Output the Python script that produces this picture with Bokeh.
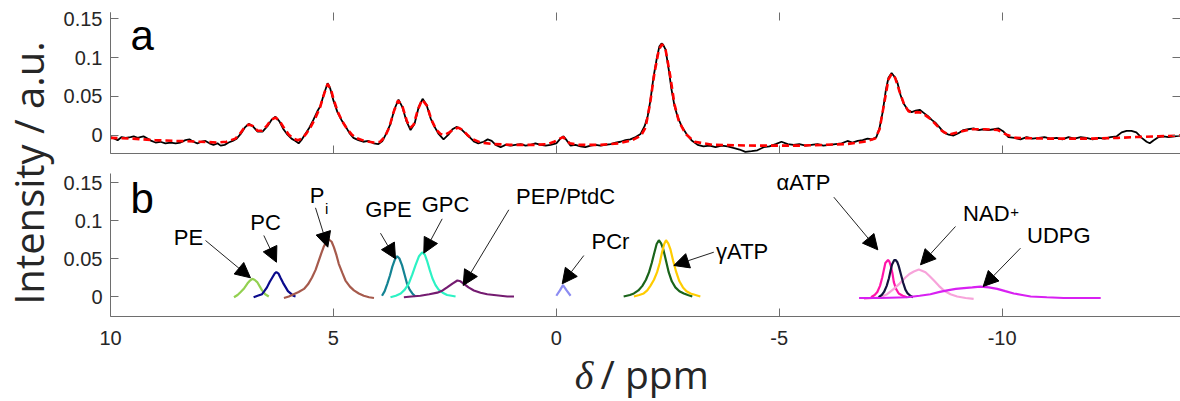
import math
from bokeh.plotting import figure
from bokeh.models import (Range1d, LinearAxis, FixedTicker, Label, Arrow,
                          NormalHead, CustomJSTickFormatter, PrintfTickFormatter)
from bokeh.embed import file_html
from bokeh.resources import INLINE

# ---------------- data ----------------
x_ticks = [10, 5, 0, -5, -10]
y_ticks = [0, 0.05, 0.1, 0.15]

# (a) measured spectrum (ppm, intensity)
spectrum = [
    (10.0, -0.002), (9.91, -0.004), (9.84, -0.006), (9.75, -0.002), (9.66, -0.003), (9.55, -0.002),
    (9.48, -0.001), (9.39, -0.003), (9.33, -0.002), (9.26, -0.001), (9.17, -0.004), (9.08, -0.007),
    (8.99, -0.009), (8.88, -0.008), (8.77, -0.010), (8.65, -0.009), (8.54, -0.010), (8.43, -0.009),
    (8.32, -0.006), (8.23, -0.005), (8.14, -0.008), (8.05, -0.010), (7.96, -0.008), (7.87, -0.007),
    (7.78, -0.010), (7.69, -0.012), (7.60, -0.010), (7.53, -0.013), (7.44, -0.012), (7.35, -0.009),
    (7.26, -0.007), (7.17, -0.004), (7.08, 0.002), (6.99, 0.010), (6.90, 0.015), (6.81, 0.012),
    (6.70, 0.005), (6.59, 0.005), (6.48, 0.012), (6.39, 0.020), (6.30, 0.024), (6.21, 0.018),
    (6.12, 0.008), (6.03, 0.001), (5.94, -0.004), (5.85, -0.007), (5.78, -0.010), (5.72, -0.006),
    (5.63, 0.002), (5.54, 0.010), (5.45, 0.020), (5.36, 0.031), (5.29, 0.038), (5.22, 0.052),
    (5.13, 0.067), (5.07, 0.060), (5.00, 0.045), (4.91, 0.030), (4.82, 0.020), (4.73, 0.012),
    (4.64, 0.003), (4.55, -0.003), (4.44, -0.006), (4.33, -0.008), (4.21, -0.007), (4.10, -0.010),
    (3.99, -0.011), (3.90, -0.007), (3.81, 0.003), (3.72, 0.015), (3.63, 0.034), (3.54, 0.046),
    (3.45, 0.036), (3.36, 0.018), (3.27, 0.007), (3.18, 0.015), (3.09, 0.036), (3.00, 0.047),
    (2.91, 0.039), (2.82, 0.022), (2.73, 0.011), (2.64, 0.002), (2.53, -0.005), (2.42, 0.001),
    (2.33, 0.008), (2.24, 0.011), (2.13, 0.008), (2.01, 0.001), (1.93, -0.003), (1.84, -0.008),
    (1.75, -0.010), (1.63, -0.008), (1.54, -0.005), (1.45, -0.007), (1.36, -0.012), (1.25, -0.015),
    (1.14, -0.012), (1.03, -0.013), (0.92, -0.012), (0.80, -0.011), (0.69, -0.013), (0.58, -0.012),
    (0.47, -0.010), (0.35, -0.012), (0.24, -0.013), (0.13, -0.012), (0.00, -0.010), (-0.09, -0.004),
    (-0.16, -0.001), (-0.23, -0.006), (-0.32, -0.013), (-0.43, -0.012), (-0.54, -0.014), (-0.65, -0.015),
    (-0.77, -0.013), (-0.88, -0.012), (-0.99, -0.013), (-1.10, -0.012), (-1.22, -0.011), (-1.33, -0.009),
    (-1.44, -0.008), (-1.55, -0.006), (-1.66, -0.005), (-1.78, -0.002), (-1.89, 0.002), (-1.98, 0.012),
    (-2.05, 0.025), (-2.11, 0.045), (-2.18, 0.075), (-2.25, 0.098), (-2.31, 0.114), (-2.36, 0.118),
    (-2.40, 0.116), (-2.45, 0.110), (-2.52, 0.085), (-2.58, 0.060), (-2.65, 0.038), (-2.72, 0.024),
    (-2.81, 0.012), (-2.92, 0.002), (-3.03, -0.006), (-3.17, -0.012), (-3.30, -0.014), (-3.44, -0.013),
    (-3.57, -0.015), (-3.71, -0.013), (-3.84, -0.014), (-3.97, -0.016), (-4.11, -0.018), (-4.24, -0.021),
    (-4.38, -0.020), (-4.51, -0.019), (-4.65, -0.015), (-4.78, -0.014), (-4.92, -0.011), (-5.05, -0.008),
    (-5.19, -0.011), (-5.32, -0.012), (-5.45, -0.011), (-5.59, -0.013), (-5.72, -0.012), (-5.86, -0.011),
    (-5.99, -0.013), (-6.13, -0.012), (-6.26, -0.011), (-6.40, -0.010), (-6.53, -0.007), (-6.64, -0.009),
    (-6.76, -0.007), (-6.87, -0.006), (-6.98, -0.004), (-7.09, -0.005), (-7.18, -0.002), (-7.25, 0.010),
    (-7.32, 0.030), (-7.39, 0.058), (-7.45, 0.074), (-7.52, 0.080), (-7.59, 0.075), (-7.65, 0.068),
    (-7.72, 0.052), (-7.79, 0.041), (-7.88, 0.033), (-7.97, 0.030), (-8.06, 0.032), (-8.15, 0.033),
    (-8.24, 0.029), (-8.33, 0.025), (-8.42, 0.020), (-8.51, 0.016), (-8.60, 0.010), (-8.69, 0.004),
    (-8.80, 0.001), (-8.91, 0.000), (-9.02, 0.003), (-9.13, 0.007), (-9.24, 0.008), (-9.36, 0.009),
    (-9.47, 0.007), (-9.58, 0.008), (-9.69, 0.007), (-9.81, 0.008), (-9.92, 0.009), (-10.03, 0.005),
    (-10.14, -0.002), (-10.28, -0.003), (-10.41, -0.005), (-10.55, -0.002), (-10.68, -0.004), (-10.82, -0.003),
    (-10.95, -0.002), (-11.08, -0.004), (-11.22, -0.003), (-11.35, -0.005), (-11.49, -0.002), (-11.62, -0.004),
    (-11.76, -0.002), (-11.89, -0.003), (-12.03, -0.005), (-12.16, -0.003), (-12.30, -0.004), (-12.43, -0.002),
    (-12.57, -0.001), (-12.68, 0.004), (-12.79, 0.006), (-12.90, 0.006), (-13.01, 0.004), (-13.13, -0.003),
    (-13.24, -0.008), (-13.31, -0.010), (-13.40, -0.006), (-13.51, -0.002), (-13.62, -0.001), (-13.73, -0.002),
    (-13.87, -0.001), (-14.00, 0.000),
]

# (a) fitted spectrum (ppm, intensity)
fit = [
    (10.0, -0.003), (9.5, -0.004), (9.0, -0.006), (8.5, -0.007), (8.0, -0.008), (7.6, -0.009),
    (7.4, -0.008), (7.2, -0.004), (7.1, 0.002), (7.0, 0.010), (6.9, 0.014), (6.8, 0.012),
    (6.7, 0.006), (6.6, 0.006), (6.5, 0.012), (6.4, 0.020), (6.3, 0.023), (6.2, 0.018),
    (6.1, 0.009), (6.0, 0.001), (5.9, -0.004), (5.8, -0.006), (5.7, -0.004), (5.6, 0.003),
    (5.5, 0.012), (5.4, 0.023), (5.3, 0.036), (5.2, 0.055), (5.13, 0.066), (5.05, 0.058),
    (5.0, 0.047), (4.9, 0.030), (4.8, 0.018), (4.7, 0.009), (4.6, 0.002), (4.5, -0.003),
    (4.3, -0.007), (4.1, -0.009), (3.95, -0.008), (3.85, -0.002), (3.75, 0.010), (3.65, 0.030),
    (3.55, 0.045), (3.45, 0.037), (3.35, 0.018), (3.27, 0.010), (3.2, 0.014), (3.1, 0.034),
    (3.01, 0.046), (2.9, 0.038), (2.8, 0.020), (2.7, 0.008), (2.6, 0.002), (2.5, 0.001),
    (2.4, 0.004), (2.3, 0.008), (2.2, 0.010), (2.1, 0.007), (2.0, 0.001), (1.9, -0.004),
    (1.7, -0.009), (1.4, -0.011), (1.0, -0.012), (0.5, -0.012), (0.2, -0.011), (0.05, -0.008),
    (-0.15, -0.002), (-0.3, -0.010), (-0.5, -0.012), (-1.0, -0.012), (-1.4, -0.010), (-1.7, -0.006),
    (-1.9, 0.000), (-2.0, 0.010), (-2.1, 0.040), (-2.2, 0.080), (-2.3, 0.110), (-2.37, 0.117),
    (-2.45, 0.110), (-2.55, 0.078), (-2.65, 0.040), (-2.75, 0.018), (-2.9, 0.002), (-3.1, -0.008),
    (-3.5, -0.012), (-4.5, -0.013), (-5.5, -0.013), (-6.5, -0.011), (-6.9, -0.008), (-7.15, -0.004),
    (-7.25, 0.008), (-7.35, 0.040), (-7.45, 0.072), (-7.52, 0.079), (-7.6, 0.074), (-7.7, 0.056),
    (-7.8, 0.040), (-7.9, 0.031), (-8.0, 0.029), (-8.1, 0.030), (-8.2, 0.029), (-8.35, 0.023),
    (-8.5, 0.015), (-8.65, 0.006), (-8.8, 0.001), (-9.0, 0.004), (-9.3, 0.008), (-9.6, 0.008),
    (-9.9, 0.007), (-10.1, 0.001), (-10.3, -0.003), (-11.0, -0.004), (-12.0, -0.004), (-12.6, -0.003),
    (-13.0, -0.002), (-13.5, -0.001), (-14.0, 0.000),
]

# (b) fitted components
pe_ppm = [7.23, 7.15, 7.08, 7.00, 6.93, 6.87, 6.82, 6.77, 6.71, 6.65, 6.60, 6.53, 6.45]
pe_int = [-0.001, 0.002, 0.006, 0.011, 0.017, 0.021, 0.0232, 0.022, 0.019, 0.013, 0.008, 0.003, 0.000]

pc_ppm = [6.79, 6.70, 6.60, 6.55, 6.49, 6.43, 6.37, 6.32, 6.28, 6.23, 6.19, 6.13, 6.07, 6.02, 5.96, 5.90, 5.85]
pc_int = [-0.001, 0.001, 0.003, 0.007, 0.012, 0.019, 0.025, 0.030, 0.032, 0.030, 0.025, 0.018, 0.012, 0.007, 0.004, 0.001, 0.000]

pi_ppm = [6.11, 6.00, 5.89, 5.78, 5.66, 5.57, 5.48, 5.40, 5.33, 5.27, 5.22, 5.16, 5.10, 5.04, 4.99,
          4.93, 4.88, 4.80, 4.73, 4.63, 4.54, 4.43, 4.32, 4.20, 4.09]
pi_int = [-0.002, 0.000, 0.003, 0.006, 0.010, 0.016, 0.025, 0.035, 0.047, 0.057, 0.065, 0.072, 0.075, 0.072, 0.065,
          0.054, 0.043, 0.031, 0.021, 0.013, 0.008, 0.004, 0.001, -0.001, -0.002]

gpe_ppm = [3.91, 3.85, 3.79, 3.73, 3.68, 3.62, 3.57, 3.52, 3.46, 3.40, 3.35, 3.29, 3.23, 3.16]
gpe_int = [0.001, 0.007, 0.017, 0.028, 0.039, 0.049, 0.053, 0.050, 0.041, 0.028, 0.017, 0.009, 0.004, 0.000]

gpc_ppm = [3.72, 3.60, 3.49, 3.40, 3.31, 3.23, 3.16, 3.08, 3.01, 2.95, 2.90, 2.84, 2.78, 2.71, 2.64, 2.55, 2.45, 2.35, 2.26]
gpc_int = [-0.001, 0.001, 0.004, 0.009, 0.017, 0.029, 0.041, 0.053, 0.058, 0.055, 0.047, 0.035, 0.024, 0.015, 0.009, 0.005, 0.002, 0.001, 0.000]

pep_ppm = [3.42, 3.25, 3.05, 2.85, 2.67, 2.55, 2.45, 2.33, 2.22, 2.15, 2.08, 1.97, 1.85, 1.70, 1.55, 1.40, 1.25, 1.10, 0.95]
pep_int = [-0.001, 0.000, 0.001, 0.003, 0.005, 0.008, 0.012, 0.017, 0.021, 0.020, 0.017, 0.012, 0.008, 0.005, 0.003, 0.002, 0.001, 0.000, 0.000]

pcr_ppm = [0.00, -0.08, -0.15, -0.23, -0.32]
pcr_int = [0.001, 0.008, 0.015, 0.008, 0.001]

gatp1_ppm = [-1.51, -1.65, -1.74, -1.84, -1.93, -2.01, -2.08, -2.14, -2.20, -2.25, -2.30, -2.35, -2.40, -2.46,
             -2.52, -2.59, -2.67, -2.76, -2.86, -2.95, -3.05]
gatp1_int = [0.000, 0.002, 0.004, 0.008, 0.014, 0.022, 0.032, 0.044, 0.058, 0.069, 0.074, 0.070, 0.062, 0.047,
             0.032, 0.020, 0.012, 0.007, 0.004, 0.002, 0.000]

gatp2_ppm = [-1.74, -1.86, -1.96, -2.04, -2.11, -2.19, -2.26, -2.32, -2.37, -2.42, -2.46, -2.51, -2.56, -2.62,
             -2.69, -2.76, -2.84, -2.92, -3.01, -3.12, -3.23]
gatp2_int = [0.000, 0.002, 0.004, 0.008, 0.014, 0.022, 0.032, 0.044, 0.058, 0.069, 0.074, 0.070, 0.062, 0.047,
             0.032, 0.020, 0.012, 0.007, 0.004, 0.002, 0.000]

aatp1_ppm = [-7.06, -7.14, -7.20, -7.26, -7.31, -7.35, -7.38, -7.44, -7.47, -7.50, -7.54, -7.57, -7.62, -7.68, -7.77, -7.87]
aatp1_int = [-0.001, 0.002, 0.006, 0.014, 0.025, 0.036, 0.044, 0.048, 0.046, 0.041, 0.030, 0.019, 0.010, 0.004, 0.001, -0.001]

aatp2_ppm = [-7.23, -7.30, -7.35, -7.41, -7.46, -7.50, -7.53, -7.58, -7.61, -7.65, -7.68, -7.73, -7.78, -7.83, -7.88, -7.94, -8.00]
aatp2_int = [-0.001, 0.002, 0.006, 0.014, 0.024, 0.035, 0.042, 0.048, 0.048, 0.045, 0.040, 0.029, 0.018, 0.009, 0.004, 0.001, -0.001]

nad_ppm = [-6.90, -7.10, -7.27, -7.42, -7.57, -7.70, -7.83, -7.93, -8.02, -8.13, -8.20, -8.28, -8.37, -8.47,
           -8.58, -8.69, -8.84, -8.99, -9.18, -9.36]
nad_int = [-0.003, -0.002, -0.001, 0.003, 0.010, 0.017, 0.025, 0.030, 0.033, 0.0355, 0.034, 0.032, 0.027, 0.021,
           0.014, 0.008, 0.003, 0.000, -0.002, -0.003]

udpg_ppm = [-6.79, -7.27, -7.87, -8.15, -8.39, -8.60, -8.77, -8.96, -9.14, -9.33, -9.51, -9.70, -9.89, -10.07,
            -10.26, -10.45, -10.64, -11.0, -11.38, -11.8, -12.21]
udpg_int = [-0.002, -0.002, -0.001, 0.001, 0.003, 0.006, 0.008, 0.010, 0.011, 0.012, 0.013, 0.012, 0.010, 0.007,
            0.004, 0.002, 0.000, -0.001, -0.002, -0.002, -0.002]

# ---------------- styling / layout ----------------
AX = "#6e6e6e"
TXT = "#262626"
SANS = "Liberation Sans"

components = [
    (pe_ppm, pe_int, "#92d050"),
    (pc_ppm, pc_int, "#0a0a8c"),
    (pi_ppm, pi_int, "#a65a4c"),
    (gpe_ppm, gpe_int, "#138393"),
    (gpc_ppm, gpc_int, "#2cf2c4"),
    (pep_ppm, pep_int, "#741b70"),
    (pcr_ppm, pcr_int, "#8c8cf2"),
    (gatp1_ppm, gatp1_int, "#1a641a"),
    (gatp2_ppm, gatp2_int, "#ffcc00"),
    (aatp1_ppm, aatp1_int, "#ff14a8"),
    (nad_ppm, nad_int, "#f7a3da"),
    (aatp2_ppm, aatp2_int, "#12123e"),
    (udpg_ppm, udpg_int, "#d820f2"),
]

# The frame covers the whole canvas; panel (b) uses the default y range,
# panel (a) the "top" range. Axes are placed with fixed_location + bounds.
p = figure(width=1180, height=401,
           x_range=Range1d(12.4673, -14), y_range=Range1d(-0.138158, 0.389474),
           x_axis_location=None, y_axis_location=None,
           output_backend="svg", toolbar_location=None,
           min_border_left=0, min_border_right=0, min_border_top=0, min_border_bottom=0)
p.extra_y_ranges = {"top": Range1d(-0.341026, 0.173077)}
p.outline_line_color = None
p.xgrid.visible = False
p.ygrid.visible = False

X_LO, X_HI = -14, 10
TOP_LO, TOP_HI = -0.02308, 0.157692
BOT_LO, BOT_HI = -0.026316, 0.16184


def add_axis(side, ticks, fixed, bounds, rng=None, labels=True, line=True, standoff=8, fmt=None):
    kw = {}
    if rng is not None:
        kw["y_range_name"] = rng
    ax = LinearAxis(ticker=FixedTicker(ticks=ticks, minor_ticks=[]), fixed_location=fixed,
                    bounds=bounds, **kw)
    ax.major_tick_in = 8
    ax.major_tick_out = 0
    ax.minor_tick_in = 0
    ax.minor_tick_out = 0
    ax.axis_line_color = AX if line else None
    ax.axis_line_width = 1
    ax.major_tick_line_color = AX
    ax.major_label_text_font = SANS
    ax.major_label_text_font_size = "20px"
    ax.major_label_text_color = TXT
    ax.major_label_standoff = standoff
    if not labels:
        ax.formatter = CustomJSTickFormatter(code="return ''")
    elif fmt is not None:
        ax.formatter = fmt
    p.add_layout(ax, side)
    return ax


# top panel (a)
add_axis("left", y_ticks, X_HI, (TOP_LO, TOP_HI), rng="top")
add_axis("below", x_ticks, TOP_LO, (X_LO, X_HI), rng="top", labels=False)
add_axis("above", x_ticks, TOP_HI, (X_LO, X_HI), rng="top", labels=False, line=False)
add_axis("right", y_ticks, X_LO, (TOP_LO, TOP_HI), rng="top", labels=False, line=False)
# bottom panel (b)
add_axis("left", y_ticks, X_HI, (BOT_LO, BOT_HI))
add_axis("below", x_ticks, BOT_LO, (X_LO, X_HI), standoff=14, fmt=PrintfTickFormatter(format="%d"))

sx = [s[0] for s in spectrum]
sy = [s[1] for s in spectrum]
fx = [f[0] for f in fit]
fy = [f[1] for f in fit]
p.line(sx, sy, y_range_name="top", line_color="black", line_width=1.8)
p.line(fx, fy, y_range_name="top", line_color="#ff0000", line_width=2.6, line_dash="7 4")

for xs, ys, col in components:
    p.line(xs, ys, line_color=col, line_width=2.2)

# panel letters (anchor = vertical middle of the text box)
p.add_layout(Label(x=9.551, y=0.3429, text="a", text_font=SANS, text_font_size="42px",
                   text_color="black", text_align="left", text_baseline="middle"))
p.add_layout(Label(x=9.551, y=0.1284, text="b", text_font=SANS, text_font_size="42px",
                   text_color="black", text_align="left", text_baseline="middle"))

# annotations: (text, x, y, size)
ann_texts = [
    ("PE", 8.250, 0.0771, 22), ("PC", 6.523, 0.0968, 22), ("P", 5.368, 0.1324, 22), ("i", 5.150, 0.1161, 15),
    ("GPE", 3.764, 0.1143, 22), ("GPC", 2.486, 0.1209, 22), ("PEP/PtdC", -0.206, 0.1320, 22),
    ("PCr", -1.215, 0.0728, 22), ("γATP", -4.169, 0.0596, 22), ("αATP", -5.544, 0.1495, 22),
    ("NAD", -9.644, 0.1087, 22), ("+", -10.277, 0.1114, 15), ("UDPG", -11.270, 0.0801, 22),
]
for t, x, y, s in ann_texts:
    p.add_layout(Label(x=x, y=y, text=t, text_font=SANS, text_font_size=f"{s}px",
                       text_color="black", text_align="center", text_baseline="middle"))

# arrows: (x_start, y_start, x_end, y_end)
arrows = [
    (7.869, 0.0737, 6.860, 0.0246), (6.561, 0.0803, 6.277, 0.0451), (5.402, 0.1167, 5.126, 0.0649),
    (3.944, 0.0833, 3.607, 0.0496), (2.560, 0.1022, 2.973, 0.0570), (1.066, 0.1141, 2.089, 0.0145),
    (-0.616, 0.0539, -0.132, 0.0167), (-3.532, 0.0583, -2.635, 0.0408), (-6.224, 0.1307, -7.211, 0.0614),
    (-8.953, 0.0921, -8.168, 0.0417), (-10.411, 0.0636, -9.574, 0.0132),
]
for x0, y0, x1, y1 in arrows:
    p.add_layout(Arrow(end=NormalHead(size=15, fill_color="black", line_color="black", line_width=1),
                       x_start=x0, y_start=y0, x_end=x1, y_end=y1,
                       line_color="#222222", line_width=1))

# axis titles
p.add_layout(Label(x=11.850, y=0.1625, text="Intensity / a.u.", angle=math.pi / 2,
                   text_font="Open Sans", text_font_size="40px", text_color=TXT,
                   text_align="center", text_baseline="middle"))
p.add_layout(Label(x=-0.620, y=-0.1033, text="δ", text_font="Liberation Serif", text_font_style="italic",
                   text_font_size="40px", text_color=TXT, text_align="center", text_baseline="middle"))
p.add_layout(Label(x=-0.991, y=-0.1007, text="/ ppm", text_font="Open Sans",
                   text_font_size="39px", text_color=TXT, text_align="left", text_baseline="middle"))

open("out.html", "w").write(file_html(p, INLINE))
